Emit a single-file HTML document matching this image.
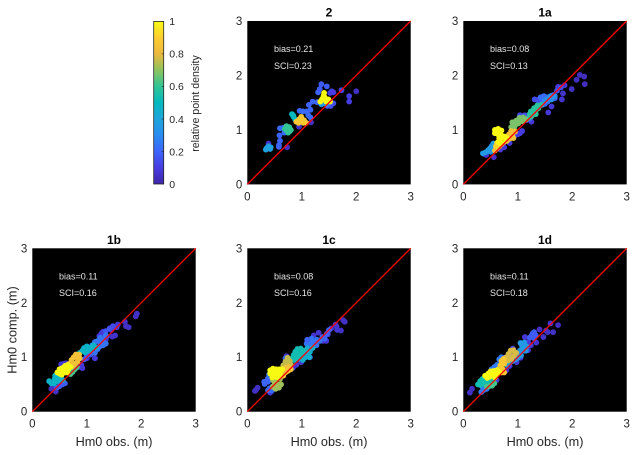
<!DOCTYPE html>
<html>
<head>
<meta charset="utf-8">
<style>
html,body{margin:0;padding:0;background:#fff;width:637px;height:455px;overflow:hidden}
svg{display:block}
text{font-family:"Liberation Sans",Arial,sans-serif}
</style>
</head>
<body>
<svg id="fig" xmlns="http://www.w3.org/2000/svg" width="637" height="455" viewBox="0 0 637 455"></svg>
<script>
// Each point: [observed Hm0, computed Hm0, relative density], low density first
const points2 = [
[.39,.75,.05],[.73,.68,.05],[.95,1.06,.05],[1.17,1.14,.05],[2.0,1.71,.05],[1.87,1.62,.1],[1.87,1.52,.1],
[.58,.69,.2],[.58,.72,.2],[.6,.8,.2],[.59,.9,.2],[.6,1.03,.22],[.68,.95,.22],[.66,1.04,.22],[.96,1.35,.22],[1.02,1.34,.22],[1.09,1.34,.22],[1.12,1.27,.22],[1.16,1.23,.22],[1.13,1.46,.2],[1.2,1.52,.2],[1.16,1.37,.2],[1.3,1.69,.2],[1.33,1.75,.18],[1.36,1.84,.18],[1.46,1.8,.18],[1.28,1.51,.2],[1.52,1.68,.1],[1.58,1.69,.1],[1.55,1.71,.1],[1.58,1.49,.15],[1.53,1.44,.15],[1.47,1.44,.15],[1.73,1.73,.12],
[1.4,1.49,.36],[1.36,1.47,.36],[1.46,1.47,.36],
[.34,.64,.38],[.38,.66,.38],[.43,.68,.38],[.39,.7,.38],[.36,.67,.38],[.42,.65,.38],
[.82,1.29,.5],[.85,1.24,.5],[.88,1.19,.5],[.84,1.27,.5],
[.72,1.07,.6],[.77,1.05,.6],[.8,1.0,.6],[.72,.99,.6],[.75,.95,.6],[.69,1.02,.6],[.73,1.03,.6],[.78,.98,.6],
[.9,1.15,.88],[.95,1.19,.88],[.99,1.24,.88],[1.04,1.18,.88],[1.08,1.13,.88],[.94,1.13,.88],[1.0,1.15,.88],[.97,1.2,.88],[1.03,1.13,.88],
[1.41,1.68,1],[1.4,1.62,1],[1.37,1.56,1],[1.34,1.52,1],[1.43,1.55,1],[1.49,1.56,1],[1.52,1.52,1],[1.39,1.58,1],[1.42,1.6,1],[1.45,1.52,1]
];
const points1a = [
[.56,.5,.05],[.42,.54,.07],[.38,.56,.07],[2.14,2.01,.04],[2.22,1.98,.04],[2.08,1.92,.04],[2.23,1.84,.04],[1.99,1.75,.05],[1.86,1.82,.07],[1.83,1.67,.07],[1.81,1.56,.07],[1.74,1.79,.1],[1.56,1.32,.08],[1.62,1.43,.08],[1.25,1.15,.08],[1.16,1.18,.08],[1.04,.94,.1],[.95,.9,.1],[1.0,.92,.1],[1.08,.98,.1],[.75,.68,.08],[.85,.76,.08],[.68,.64,.08],
[1.31,1.56,.14],[1.36,1.55,.14],[1.4,1.52,.14],[1.04,1.27,.14],[1.13,1.27,.14],[1.08,1.22,.14],[1.17,1.24,.14],[1.22,1.2,.14],[1.68,1.58,.16],[1.72,1.72,.16],[1.79,1.78,.14],
[1.42,1.6,.22],[1.48,1.62,.22],[1.53,1.6,.22],[1.45,1.55,.22],[1.5,1.48,.22],[1.55,1.52,.22],[1.6,1.6,.22],[1.45,1.46,.2],[1.65,1.64,.22],
[1.58,1.58,.32],[1.62,1.56,.32],[1.68,1.62,.32],[1.54,1.56,.32],[1.5,1.54,.32],[1.6,1.62,.32],
[.36,.57,.36],[.41,.59,.36],[.46,.63,.36],[.49,.66,.36],[.52,.7,.36],[.55,.75,.36],[.5,.6,.36],[.56,.66,.36],[.53,.62,.36],
[1.2,1.22,.58],[1.25,1.25,.58],[1.28,1.32,.58],[1.33,1.35,.58],[1.38,1.4,.58],[1.43,1.46,.58],[1.24,1.34,.58],[1.3,1.4,.58],[1.36,1.45,.58],[1.22,1.29,.58],[1.33,1.29,.58],
[.88,1.05,.68],[.9,1.14,.68],[.95,1.08,.68],[.97,1.17,.68],[1.01,1.12,.68],[1.03,1.22,.68],[1.08,1.16,.68],[1.1,1.23,.68],[1.15,1.19,.68],[.93,1.02,.68],
[.58,.62,.84],[.62,.66,.84],[.66,.7,.84],[.7,.74,.84],[.75,.78,.84],[.8,.8,.84],[.85,.84,.84],[.9,.9,.84],[.95,.97,.84],[.78,.86,.84],[.84,.92,.84],[.88,.98,.84],[.73,.84,.84],[.92,.85,.84],
[.6,.7,.92],[.62,.76,.92],[.66,.74,.92],
[.58,1.0,1],[.64,1.02,1],[.7,.99,1],[.58,.94,1],[.64,.92,1],[.7,.9,1],[.76,.88,1],[.8,.85,1],[.66,.85,1],[.72,.82,1],[.76,.8,1],[.64,.78,1],[.68,.76,1]
];
const points1b = [
[.4,.4,.05],[.43,.37,.05],[.35,.42,.05],[.38,.47,.06],[.58,.88,.08],[.53,.87,.08],[.62,.89,.08],[.84,.82,.08],[.92,.8,.08],[.9,.86,.08],[1.0,.98,.08],[1.27,1.44,.08],[1.3,1.47,.08],[1.23,1.39,.08],[1.47,1.38,.06],[1.52,1.4,.06],[1.45,1.5,.08],[1.55,1.55,.08],[1.57,1.6,.08],[1.7,1.65,.05],[1.77,1.55,.05],[1.72,1.57,.05],[1.9,1.75,.05],[1.92,1.8,.05],[1.37,1.38,.08],[1.35,1.33,.08],[1.15,.98,.08],
[.6,.52,.18],[.55,.5,.18],[.5,.47,.18],[.45,.44,.18],[.52,.54,.18],[1.42,1.53,.16],[1.48,1.57,.14],[1.35,1.48,.16],[1.0,1.04,.18],[.95,.96,.18],[1.07,1.05,.18],
[1.1,1.1,.24],[1.15,1.08,.24],[1.2,1.15,.24],[1.3,1.22,.24],[1.35,1.25,.24],[1.15,1.28,.24],[1.2,1.3,.24],[1.25,1.36,.24],[1.3,1.33,.24],[1.35,1.4,.24],[1.25,1.25,.24],[1.15,1.18,.24],[1.1,1.22,.24],[1.3,1.28,.24],[1.24,1.2,.24],
[.87,1.08,.47],[.92,1.12,.47],[.95,1.17,.47],[1.0,1.2,.47],[1.05,1.17,.47],[1.12,1.22,.47],[1.17,1.18,.47],[.97,1.09,.47],[1.02,1.12,.47],[1.08,1.14,.47],
[.31,.56,.47],[.35,.52,.47],[.41,.6,.47],[.4,.52,.47],[.45,.56,.47],[.5,.58,.47],[.53,.66,.47],[.47,.64,.47],[.42,.66,.47],[.5,.7,.47],[.56,.58,.47],
[.74,.73,.62],[.78,.78,.62],[.82,.82,.62],[.7,.69,.62],
[.68,.88,.84],[.72,.95,.84],[.76,1.0,.84],[.8,1.05,.84],[.86,1.05,.84],[.87,.98,.84],[.83,.92,.84],[.78,.88,.84],[.74,.84,.84],[.82,1.0,.84],
[.46,.72,1],[.5,.7,1],[.5,.78,1],[.55,.8,1],[.6,.84,1],[.65,.86,1],[.66,.78,1],[.7,.82,1],[.6,.72,1],[.55,.72,1],[.64,.72,1],[.58,.78,1],[.62,.8,1],[.54,.68,1]
];
const points1c = [
[.14,.38,.05],[.16,.4,.05],[.19,.44,.05],[1.79,1.65,.05],[1.76,1.68,.05],[1.72,1.49,.05],[1.64,1.56,.07],[1.65,1.5,.07],[1.62,1.6,.07],[1.45,1.3,.07],[1.39,1.3,.07],[1.22,1.4,.07],[1.31,1.45,.07],[1.48,1.42,.08],[1.54,1.53,.08],[.99,.91,.08],[.84,.81,.08],[.9,.86,.08],[.42,.35,.08],[.45,.38,.08],[.72,1.02,.08],[1.15,1.0,.08],
[.31,.55,.2],[.32,.51,.2],[.38,.61,.2],[.38,.39,.22],[.44,.39,.22],[.41,.43,.22],[.46,.46,.22],[.38,.55,.2],[.42,.6,.2],[1.46,1.43,.2],[1.5,1.5,.2],[1.38,1.37,.2],[1.42,1.34,.2],[.7,.98,.2],[.45,.74,.2],[.4,.68,.24],[.43,.64,.24],
[1.09,1.25,.24],[1.13,1.3,.24],[1.18,1.34,.24],[1.22,1.27,.24],[1.27,1.22,.24],[1.33,1.3,.24],[1.15,1.22,.24],[1.2,1.2,.24],[1.28,1.32,.24],[1.1,1.32,.2],
[1.02,.95,.45],[1.07,1.0,.45],[1.1,1.05,.45],[1.15,1.1,.45],[1.2,1.17,.45],[1.05,1.1,.45],[1.1,1.16,.45],[1.0,1.04,.45],[.94,.97,.45],[1.14,1.0,.45],
[.81,.97,.53],[.85,1.04,.53],[.88,1.1,.53],[.92,1.15,.53],[.98,1.16,.53],[1.02,1.12,.53],[.9,1.0,.53],[.95,1.06,.53],[.86,.95,.53],[.99,1.03,.53],
[.47,.46,.72],[.52,.42,.72],[.58,.44,.72],[.62,.5,.72],[.5,.54,.72],[.56,.5,.72],[.6,.6,.72],[.53,.6,.72],[.47,.58,.72],
[.66,.85,.76],[.7,.92,.76],[.74,.99,.76],[.78,.93,.76],[.8,.86,.76],[.73,.86,.76],
[.62,.68,.85],[.66,.66,.85],[.7,.72,.85],[.75,.75,.85],[.8,.78,.85],[.7,.8,.85],[.64,.76,.85],[.76,.82,.85],
[.42,.76,1],[.47,.79,1],[.53,.78,1],[.59,.78,1],[.64,.78,1],[.42,.7,1],[.48,.7,1],[.54,.7,1],[.6,.7,1],[.46,.63,1],[.52,.64,1],[.57,.63,1]
];
const points1d = [
[.12,.35,.05],[.16,.42,.05],[1.6,1.62,.07],[1.74,1.59,.04],[1.65,1.46,.05],[1.55,1.46,.05],[1.52,1.49,.05],[1.4,1.51,.05],[1.47,1.37,.07],[1.34,1.27,.07],[1.19,1.13,.07],[1.13,1.37,.08],[1.19,1.28,.08],[1.24,1.22,.08],[.91,1.16,.08],[.98,.91,.08],[.79,.76,.08],[.61,.58,.08],[.85,.84,.08],[1.05,.99,.08],
[1.22,1.36,.18],[1.27,1.43,.18],[1.3,1.46,.18],[1.25,1.39,.18],[1.3,1.35,.18],[1.33,1.4,.18],[.33,.36,.26],[.38,.4,.26],[.36,.44,.26],[.43,.42,.26],[.57,.82,.26],[.52,.78,.26],[.62,.86,.26],[.7,1.0,.26],[.66,.96,.26],[.75,.99,.22],[.85,1.05,.2],[1.1,1.2,.2],
[1.0,1.06,.35],[1.04,1.12,.35],[1.08,1.2,.35],[1.12,1.27,.35],[1.16,1.2,.35],[1.12,1.12,.35],[1.06,1.03,.35],[1.0,.99,.35],[.96,.96,.35],[1.05,1.26,.35],[1.15,1.12,.35],
[.8,.86,.38],[.85,.9,.38],[.9,.93,.38],[.93,.98,.38],
[.27,.5,.53],[.31,.56,.53],[.35,.6,.53],[.4,.58,.53],[.46,.6,.53],[.36,.52,.53],[.42,.52,.53],[.48,.54,.53],[.55,.58,.53],[.31,.49,.53],
[.48,.47,.62],[.53,.48,.62],[.57,.52,.62],[.43,.46,.62],
[.79,1.0,.78],[.83,1.06,.78],[.87,1.12,.78],[.92,1.13,.78],[.97,1.08,.78],[.93,1.03,.78],[.88,.97,.78],[.82,.94,.78],
[.65,.78,.88],[.68,.85,.88],[.7,.93,.88],[.74,.97,.88],[.75,.88,.88],[.72,.78,.88],[.75,.72,.88],[.7,.72,.88],
[.4,.66,1],[.46,.7,1],[.5,.74,1],[.56,.75,1],[.62,.76,1],[.66,.72,1],[.6,.68,1],[.54,.68,1],[.48,.64,1],[.44,.62,1],[.58,.63,1]
];
const panelTitles = ['2','1a','1b','1c','1d'];
const panelBias = ['0.21','0.08','0.11','0.08','0.11'];
const panelSci = ['0.23','0.13','0.16','0.16','0.18'];
const axisTicks = [0,1,2,3];
const colorbarTicks = [0,0.2,0.4,0.6,0.8,1];

const panelSeries = [points2,points1a,points1b,points1c,points1d];
const panelLeft = [247.3,463.3,32.3,247.3,463.3];
const panelTop = [21,21,248.3,248.3,248.3];
const hasXLabel = [false,false,true,true,true];
const hasYLabel = [false,false,true,false,false];
const AXIS_SIZE = 163.4;
const AXIS_MAX = 3;
const parula = [[62,38,168],[71,60,225],[60,100,250],[40,140,240],[30,165,220],[5,185,190],[50,197,150],[140,195,95],[235,185,62],[252,205,48],[249,250,20]];
const NS = 'http://www.w3.org/2000/svg';
const fig = document.getElementById('fig');

function colorOf(v){
  const t = Math.max(0,Math.min(1,v))*(parula.length-1);
  const i = Math.min(parula.length-2,Math.floor(t));
  const f = t-i;
  const c = [0,1,2].map(k=>Math.round(parula[i][k]+(parula[i+1][k]-parula[i][k])*f));
  return 'rgb('+c.join(',')+')';
}
function make(tag,attrs,parent,txt){
  const el = document.createElementNS(NS,tag);
  for(const k in attrs){el.setAttribute(k,attrs[k]);}
  if(txt!==undefined){el.textContent=txt;}
  parent.appendChild(el);
  return el;
}
panelTitles.forEach(function(title,p){
  const L = panelLeft[p], T = panelTop[p];
  const sx = v => L + v/AXIS_MAX*AXIS_SIZE;
  const sy = v => T + AXIS_SIZE - v/AXIS_MAX*AXIS_SIZE;
  const g = make('g',{},fig);
  
  
  const bg = make('rect',{x:L,y:T,width:AXIS_SIZE,height:AXIS_SIZE,fill:'#000'},g);
  
  
  const titleEl = make('text',{x:L+AXIS_SIZE/2,y:T-4.5,'text-anchor':'middle','font-size':'12px','font-weight':'bold',fill:'#000'},g,title);
  
  
  panelSeries[p].forEach(function(pt){
    const c = make('circle',{cx:sx(pt[0]).toFixed(2),cy:sy(pt[1]).toFixed(2),r:2.9,fill:colorOf(pt[2])},g);
    
    
  });
  const line = make('line',{x1:sx(0),y1:sy(0),x2:sx(AXIS_MAX),y2:sy(AXIS_MAX),stroke:'#f00','stroke-width':1.3},g);
  
  
  const bias = make('text',{x:sx(0.49),y:sy(2.43),'font-size':'9px',fill:'#e6e6e6'},g,'bias='+panelBias[p]);
  
  
  const sci = make('text',{x:sx(0.49),y:sy(2.12),'font-size':'9px',fill:'#e6e6e6'},g,'SCI='+panelSci[p]);
  
  
  axisTicks.forEach(function(t){
    const xt = make('text',{x:sx(t),y:T+AXIS_SIZE+16,'text-anchor':'middle','font-size':'11.5px',fill:'#262626'},g,String(t));
    
    
    const yt = make('text',{x:L-5,y:sy(t)+4,'text-anchor':'end','font-size':'11.5px',fill:'#262626'},g,String(t));
    
    
  });
  if(hasXLabel[p]){
    const xl = make('text',{x:L+AXIS_SIZE/2,y:T+AXIS_SIZE+34.5,'text-anchor':'middle','font-size':'12.7px',fill:'#262626'},g,'Hm0 obs. (m)');
    
    
  }
  if(hasYLabel[p]){
    const cy = T+AXIS_SIZE/2;
    const yl = make('text',{x:L-16,y:cy,'text-anchor':'middle','font-size':'12.7px',fill:'#262626',transform:'rotate(-90 '+(L-16)+' '+cy+')'},g,'Hm0 comp. (m)');
    
    
  }
});

// Colorbar
const cbL = 153.7, cbT = 21.4, cbW = 10, cbH = 162.6;
const cbG = make('g',{},fig);


const defs = make('defs',{},cbG);
const grad = make('linearGradient',{id:'parulaGrad',x1:0,y1:1,x2:0,y2:0},defs);
parula.forEach(function(c,i){
  make('stop',{offset:i/(parula.length-1),'stop-color':'rgb('+c.join(',')+')'},grad);
});
const cbRect = make('rect',{x:cbL,y:cbT,width:cbW,height:cbH,fill:'url(#parulaGrad)',stroke:'#262626','stroke-width':0.8},cbG);


colorbarTicks.forEach(function(t){
  const y = cbT + cbH - t*cbH;
  const tick = make('line',{x1:cbL+cbW-2,x2:cbL+cbW,y1:y,y2:y,stroke:'#262626','stroke-width':0.6},cbG);
  
  
  const lab = make('text',{x:169.3,y:y+3.8,'font-size':'10.5px',fill:'#262626'},cbG,String(t));
  
  
});
const cbTitle = make('text',{x:199,y:103.5,'text-anchor':'middle','font-size':'10.6px',fill:'#262626',transform:'rotate(-90 199 103.5)'},cbG,'relative point density');


</script>
</body>
</html>
